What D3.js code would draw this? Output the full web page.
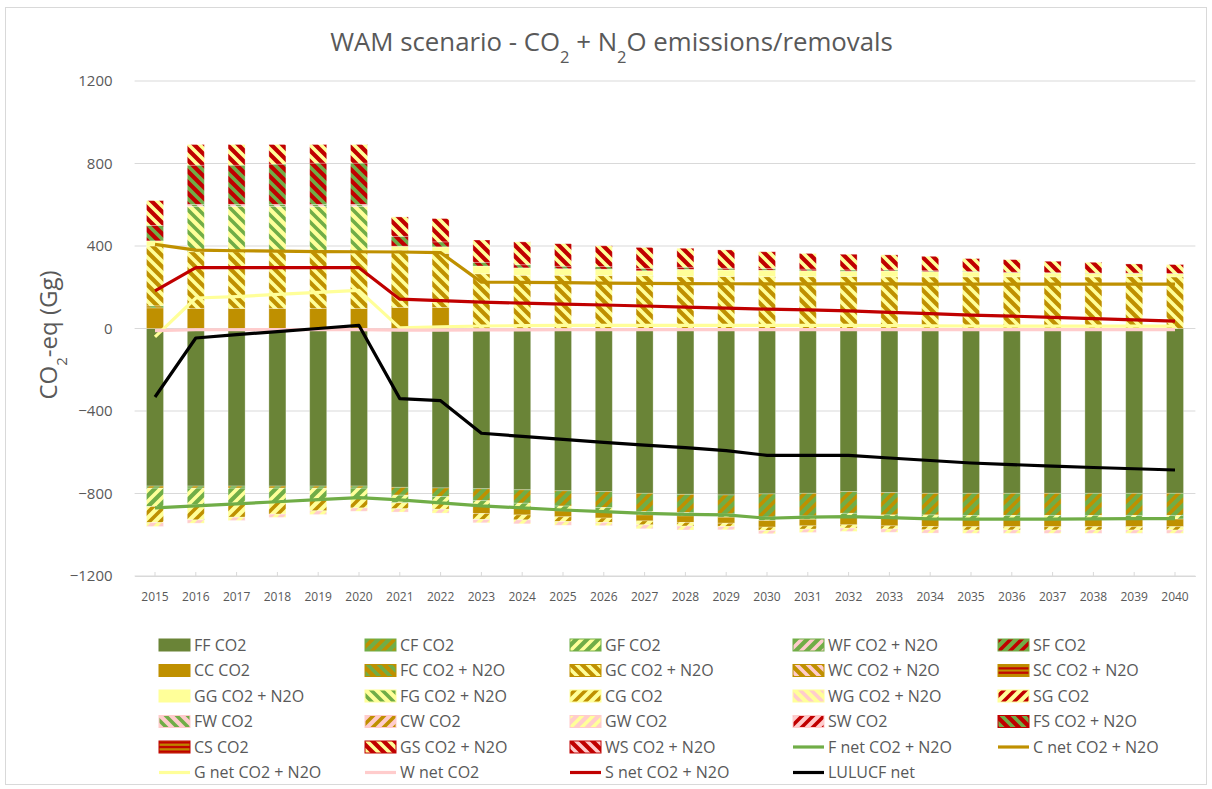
<!DOCTYPE html>
<html>
<head>
<meta charset="utf-8">
<script src="https://cdn.jsdelivr.net/npm/d3@7"></script>
<style>
  body { margin: 0; background: #fff; }
  text { font-family: "Open Sans", "Noto Sans", sans-serif; fill: #595959; }
</style>
</head>
<body>
<script>
// ---- Data (Gg CO2-eq) -------------------------------------------------
const years = d3.range(2015, 2041).map(String);
const yTicks = [-1200, -800, -400, 0, 400, 800, 1200];

// land-use transition series (first letter: previous use, second: current use)
const FF = [-764,-764,-764,-764,-764,-764,-770,-773,-777,-782,-787,-791,-799,-804,-807,-802,-799,-791,-796,-799,-799,-799,-799,-799,-799,-799];
const CF = [-10,-10,-10,-10,-10,-10,-38,-42,-58,-65,-74,-77,-88,-88,-92,-112,-110,-105,-108,-105,-107,-107,-107,-107,-107,-107];
const GF = [-89,-81,-73,-65,-57,-48,-37,-32,-26,-25,-23,-20,-17,-17,-16,-17,-16,-16,-16,-16,-18,-18,-18,-18,-18,-18];
const WF = years.map(() => 0);
const SF = years.map(() => 0);
const CC = [100,97,97,97,97,97,102,102,-36,-32,-29,-31,-29,-31,-29,-32,-32,-40,-37,-40,-37,-37,-37,-37,-37,-37];
const FC = [10,0,0,0,0,0,0,0,0,0,0,0,0,0,0,0,0,0,0,0,0,0,0,0,0,0];
const GC = [290,275,275,275,275,275,277,262,265,258,258,256,256,251,252,251,251,252,250,250,250,250,250,250,252,250];
const WC = years.map(() => 0);
const SC = years.map(() => 0);
const GG = [25,0,0,0,0,0,20,32,38,36,32,32,24,36,32,32,29,26,29,26,24,21,19,18,16,16];
const FG = [0,220,220,220,220,220,0,0,0,0,0,0,0,0,0,0,0,0,0,0,0,0,0,0,0,0];
const CG = [-78,-73,-68,-61,-53,-48,-29,-29,-29,-24,-23,-21,-19,-18,-16,-16,-16,-16,-15,-16,-16,-16,-16,-16,-16,-16];
const WG = years.map(() => 0);
const SG = years.map(() => 0);
const FW = [0,10,10,10,10,10,0,0,0,0,0,0,0,0,0,0,0,0,0,0,0,0,0,0,0,0];
const CW = years.map(() => 0);
const GW = [-19,-16,-16,-16,-18,-16,-16,-19,-16,-19,-18,-16,-19,-19,-16,-16,-16,-16,-16,-16,-16,-16,-16,-16,-16,-16];
const SW = years.map(() => 0);
const FS = [75,190,190,195,200,200,48,24,18,15,12,12,12,10,8,8,8,6,5,4,3,2,2,1,1,1];
const CS = years.map(() => 0);
const GS = [120,100,100,95,90,90,94,113,108,111,109,101,101,92,89,81,76,76,73,70,62,61,55,52,44,43];
const WS = years.map(() => 0);

// net lines
const Fnet = [-870,-860,-850,-840,-830,-820,-831,-845,-860,-870,-880,-888,-896,-901,-904,-920,-915,-912,-917,-923,-924,-924,-924,-923,-922,-922];
const Cnet = [408,380,377,375,373,372,371,368,225,224,222,220,219,218,217,216,216,216,216,215,215,215,215,215,215,215];
const Gnet = [-41,148,155,165,175,185,3,8,12,14,15,15,15,15,15,15,15,15,14,13,12,12,12,12,12,12];
const Wnet = [-10,-6,-6,-5,-5,-5,-8,-8,-7,-7,-6,-6,-5,-5,-5,-5,-5,-5,-5,-5,-5,-5,-5,-5,-5,-5];
const Snet = [182,295,295,295,295,295,142,135,128,123,118,114,109,104,99,94,90,85,78,72,65,60,54,48,42,36];
const LULUCF = [-332,-46,-30,-15,0,15,-340,-350,-508,-523,-538,-552,-565,-578,-592,-615,-615,-615,-628,-640,-652,-660,-667,-674,-680,-686];

// ---- Styling --------------------------------------------------------------
const OLIVE = "#6a8437", GREEN = "#70ad47", GOLD = "#bf9000",
      YELLOW = "#ffff99", PINK = "#ffcccc", RED = "#c00000";

// fill spec: [background, stripe colour, direction]
const barSeries = [
  ["FF CO2", FF, [OLIVE]],
  ["CF CO2", CF, [GREEN, GOLD, "/"]],
  ["GF CO2", GF, [GREEN, YELLOW, "/"]],
  ["WF CO2 + N2O", WF, [GREEN, PINK, "/"]],
  ["SF CO2", SF, [GREEN, RED, "/"]],
  ["CC CO2", CC, [GOLD]],
  ["FC CO2 + N2O", FC, [GOLD, GREEN, "\\"]],
  ["GC CO2 + N2O", GC, [GOLD, YELLOW, "\\"]],
  ["WC CO2 + N2O", WC, [GOLD, PINK, "\\"]],
  ["SC CO2 + N2O", SC, [GOLD, RED, "-"]],
  ["GG CO2 + N2O", GG, [YELLOW]],
  ["FG CO2 + N2O", FG, [YELLOW, GREEN, "\\"]],
  ["CG CO2", CG, [YELLOW, GOLD, "/"]],
  ["WG CO2 + N2O", WG, [YELLOW, PINK, "\\"]],
  ["SG CO2", SG, [YELLOW, RED, "/"]],
  ["FW CO2", FW, [PINK, GREEN, "\\"]],
  ["CW CO2", CW, [PINK, GOLD, "/"]],
  ["GW CO2", GW, [PINK, YELLOW, "/"]],
  ["SW CO2", SW, [PINK, RED, "/"]],
  ["FS CO2 + N2O", FS, [RED, GREEN, "\\"]],
  ["CS CO2", CS, [RED, GOLD, "-"]],
  ["GS CO2 + N2O", GS, [RED, YELLOW, "\\"]],
  ["WS CO2 + N2O", WS, [RED, PINK, "\\"]]
];
const lineSeries = [
  ["F net CO2 + N2O", Fnet, GREEN],
  ["C net CO2 + N2O", Cnet, GOLD],
  ["G net CO2 + N2O", Gnet, YELLOW],
  ["W net CO2", Wnet, PINK],
  ["S net CO2 + N2O", Snet, RED],
  ["LULUCF net", LULUCF, "#000"]
];

// ---- Layout ---------------------------------------------------------------
const W = 1212, H = 789;
const plot = { left: 134.6, right: 1195.4, top: 81, bottom: 576 };

const svg = d3.select("body").append("svg").attr("width", W).attr("height", H);
svg.append("rect").attr("x", 5.5).attr("y", 7.5).attr("width", W - 11).attr("height", H - 12)
  .attr("fill", "#fff").attr("stroke", "#d9d9d9");

const defs = svg.append("defs");
const T = 11;
function fillFor(spec, idx) {
  const [bg, fg, dir] = spec;
  if (!fg) return bg;
  const id = "pat" + idx;
  const h = dir === "-" ? 4.5 : T;
  const p = defs.append("pattern").attr("id", id)
    .attr("patternUnits", "userSpaceOnUse").attr("width", T).attr("height", h);
  p.append("rect").attr("width", T).attr("height", h).attr("fill", bg);
  if (dir === "-") {
    p.append("rect").attr("y", 1.2).attr("width", T).attr("height", 2.2).attr("fill", fg);
  } else {
    const d = dir === "/"
      ? `M0,${T} L${T},0 M-2,2 L2,-2 M${T - 2},${T + 2} L${T + 2},${T - 2}`
      : `M0,0 L${T},${T} M-2,${T - 2} L2,${T + 2} M${T - 2},-2 L${T + 2},2`;
    p.append("path").attr("d", d).attr("stroke", fg).attr("stroke-width", 3.6)
      .attr("stroke-linecap", "square").attr("fill", "none");
  }
  return `url(#${id})`;
}
const fills = barSeries.map((s, i) => fillFor(s[2], i));

const x = d3.scaleBand().domain(years).range([plot.left, plot.right])
  .paddingInner(0.583).paddingOuter(0.2915);
const y = d3.scaleLinear().domain([-1200, 1200]).range([plot.bottom, plot.top]);

// gridlines
svg.append("g").selectAll("line").data(yTicks).join("line")
  .attr("x1", plot.left).attr("x2", plot.right)
  .attr("y1", d => y(d)).attr("y2", d => y(d))
  .attr("stroke", "#d9d9d9").attr("stroke-width", 1);

// y axis labels
const yAxis = svg.append("g").attr("transform", `translate(${plot.left},0)`)
  .call(d3.axisLeft(y).tickValues(yTicks).tickSize(0).tickPadding(22).tickFormat(d3.format("d")));
yAxis.select(".domain").remove();
yAxis.selectAll("text").style("font-size", "15px").style("fill", "#595959")
  .style("font-family", '"Open Sans", sans-serif');

// x axis
const xAxis = svg.append("g").attr("transform", `translate(0,${plot.bottom})`)
  .call(d3.axisBottom(x).tickSizeInner(-4).tickSizeOuter(0).tickPadding(16));
xAxis.select(".domain").attr("stroke", "#d9d9d9");
xAxis.selectAll(".tick line").attr("stroke", "#d9d9d9");
xAxis.selectAll("text").style("font-size", "12px").style("fill", "#595959")
  .style("font-family", '"Open Sans", sans-serif');

// stacked bars (positives stack upward, negatives downward)
const table = years.map((yr, i) => {
  const row = { year: yr };
  barSeries.forEach((s, k) => { row[k] = s[1][i]; });
  return row;
});
const stack = d3.stack().keys(barSeries.map((s, k) => k)).offset(d3.stackOffsetDiverging)(table);

const barsG = svg.append("g");
stack.forEach((layer, k) => {
  barsG.append("g").attr("fill", fills[k])
    .selectAll("rect").data(layer.filter(d => d[1] !== d[0])).join("rect")
    .attr("x", d => x(d.data.year))
    .attr("width", x.bandwidth())
    .attr("y", d => y(Math.max(d[0], d[1])))
    .attr("height", d => Math.abs(y(d[0]) - y(d[1])))
    .attr("stroke", "rgba(255,255,255,0.35)").attr("stroke-width", 0.8);
});

// net lines
const line = d3.line().x((d, i) => x(years[i]) + x.bandwidth() / 2).y(d => y(d));
lineSeries.forEach(([name, vals, col]) => {
  svg.append("path").datum(vals).attr("d", line)
    .attr("fill", "none").attr("stroke", col).attr("stroke-width", 3.2)
    .attr("stroke-linejoin", "round");
});

// title
const title = svg.append("text").attr("x", 611.5).attr("y", 51).attr("text-anchor", "middle")
  .style("font-size", "22px");
title.append("tspan").text("WAM scenario - CO");
title.append("tspan").text("2").attr("baseline-shift", "sub").style("font-size", "14px");
title.append("tspan").text(" + N");
title.append("tspan").text("2").attr("baseline-shift", "sub").style("font-size", "14px");
title.append("tspan").text("O emissions/removals");
const tw = title.node().getComputedTextLength();
const fs = 22 * 563 / tw;
title.style("font-size", fs + "px");
title.selectAll("tspan").filter((d, i) => i % 2 === 1).style("font-size", (fs * 0.64) + "px");

// y axis title
const yt = svg.append("text").attr("transform", "translate(57,335) rotate(-90)")
  .attr("text-anchor", "middle").style("font-size", "24px");
yt.append("tspan").text("CO");
yt.append("tspan").text("2").attr("baseline-shift", "sub").style("font-size", "15px");
yt.append("tspan").text("-eq (Gg)");

// legend
const colX = [159, 365, 570, 793, 998];
const rowY = [645, 670.5, 696, 721.5, 747, 772.5];
const legendItems = barSeries.map((s, k) => ({ name: s[0], type: "bar", k }))
  .concat(lineSeries.map(s => ({ name: s[0], type: "line", col: s[2] })));
const lg = svg.append("g");
legendItems.forEach((it, i) => {
  const cx = colX[i % 5], cy = rowY[Math.floor(i / 5)];
  if (it.type === "bar") {
    lg.append("rect").attr("x", cx).attr("y", cy - 6).attr("width", 31).attr("height", 12)
      .attr("fill", fills[it.k]).attr("stroke", barSeries[it.k][2][0]).attr("stroke-width", 1);
  } else {
    lg.append("line").attr("x1", cx).attr("x2", cx + 31).attr("y1", cy).attr("y2", cy)
      .attr("stroke", it.col).attr("stroke-width", 3.2);
  }
  lg.append("text").attr("x", cx + 35).attr("y", cy).attr("dy", "0.36em")
    .style("font-size", "16px").text(it.name);
});
</script>
</body>
</html>
